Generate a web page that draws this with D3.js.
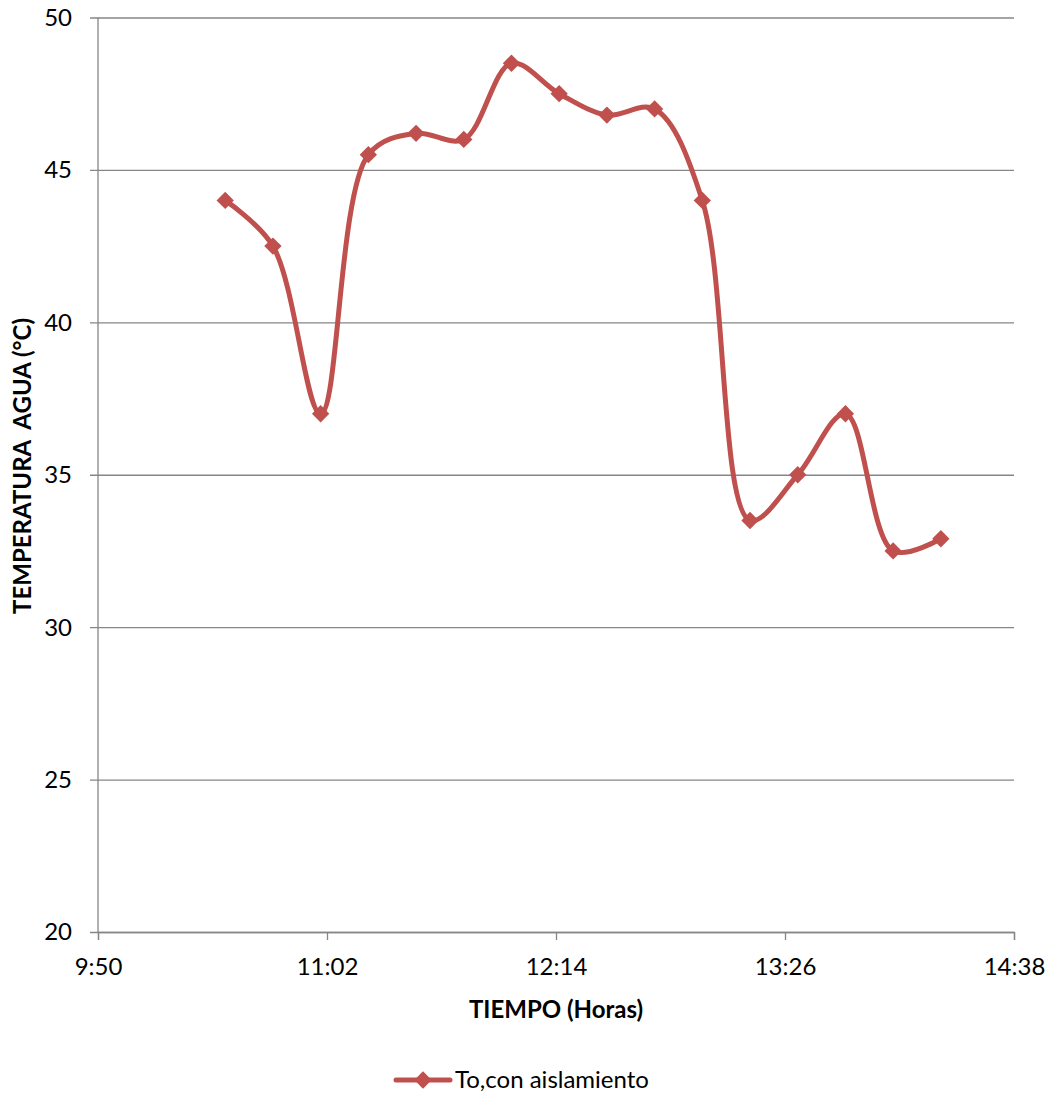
<!DOCTYPE html>
<html>
<head>
<meta charset="utf-8">
<script src="https://cdn.jsdelivr.net/npm/d3@7"></script>
<style>
  body { margin: 0; background: #fff; }
  text { font-family: Lato, "Open Sans", sans-serif; fill: #000; }
  .grid line { stroke: #868686; stroke-width: 1.3; }
  .grid path { display: none; }
</style>
</head>
<body>
<svg width="1052" height="1095"></svg>
<script>
// readings, hh:mm
var times = ["10:30", "10:45", "11:00", "11:15", "11:30", "11:45", "12:00", "12:15",
             "12:30", "12:45", "13:00", "13:15", "13:30", "13:45", "14:00", "14:15"];
var temps = [44, 42.5, 37, 45.5, 46.2, 46, 48.5, 47.5, 46.8, 47, 44, 33.5, 35, 37, 32.5, 32.9];
var xTicks = ["9:50", "11:02", "12:14", "13:26", "14:38"];
var yTicks = [20, 25, 30, 35, 40, 45, 50];
var seriesName = "To,con aislamiento";

var svg = d3.select("svg"),
    margin = {top: 17.5, right: 38, bottom: 163, left: 98},
    width = +svg.attr("width") - margin.left - margin.right,
    height = +svg.attr("height") - margin.top - margin.bottom,
    g = svg.append("g").attr("transform", "translate(" + margin.left + "," + margin.top + ")");

var parseTime = d3.timeParse("%H:%M");
var color = "#C0504D", axisColor = "#868686";

var data = times.map(function(t, i) { return {t: parseTime(t), v: temps[i]}; });
var tickDates = xTicks.map(parseTime);

var x = d3.scaleTime().domain([tickDates[0], tickDates[tickDates.length - 1]]).range([0, width]);
var y = d3.scaleLinear().domain([20, 50]).range([height, 0]);

// horizontal gridlines with the little outside ticks
g.append("g")
    .attr("class", "grid")
    .attr("transform", "translate(-8,0)")
    .call(d3.axisLeft(y).tickValues(yTicks).tickSize(-(width + 8)).tickFormat(""));

// y axis labels
g.append("g").selectAll("text")
    .data(yTicks)
  .enter().append("text")
    .attr("x", -26)
    .attr("y", function(d) { return y(d); })
    .attr("dy", "0.35em")
    .attr("text-anchor", "end")
    .attr("font-size", "24px")
    .text(function(d) { return d; });

// vertical axis line
g.append("line")
    .attr("x1", 0).attr("x2", 0)
    .attr("y1", 0).attr("y2", height)
    .attr("stroke", axisColor).attr("stroke-width", 1.3);

// x axis
var xAxis = g.append("g")
    .attr("transform", "translate(0," + height + ")")
    .call(d3.axisBottom(x).tickValues(tickDates).tickSize(8).tickPadding(18)
      .tickFormat(d3.timeFormat("%-H:%M")));
xAxis.select(".domain").attr("stroke", axisColor).attr("stroke-width", 1.3);
xAxis.selectAll(".tick line").attr("stroke", axisColor).attr("stroke-width", 1.3);
xAxis.selectAll(".tick text").attr("font-size", "24px").attr("font-family", "Lato, sans-serif").attr("fill", "#000");

// axis titles
svg.append("text")
    .attr("x", 556)
    .attr("y", 1018)
    .attr("text-anchor", "middle")
    .attr("font-size", "24px")
    .attr("font-weight", "bold")
    .text("TIEMPO (Horas)");

svg.append("text")
    .attr("transform", "translate(31,466) rotate(-90)")
    .attr("text-anchor", "middle")
    .attr("font-size", "24px")
    .attr("font-weight", "bold")
    .style("white-space", "pre")
    .text("TEMPERATURA  AGUA (°C)");

// smoothed line like excel
var line = d3.line()
    .curve(d3.curveCatmullRom.alpha(0.5))
    .x(function(d) { return x(d.t); })
    .y(function(d) { return y(d.v); });

g.append("path")
    .datum(data)
    .attr("fill", "none")
    .attr("stroke", color)
    .attr("stroke-width", 5)
    .attr("stroke-linejoin", "round")
    .attr("d", line);

var diamond = d3.symbol().type(d3.symbolSquare).size(150);

g.selectAll(".pt")
    .data(data)
  .enter().append("path")
    .attr("class", "pt")
    .attr("d", diamond)
    .attr("fill", color)
    .attr("transform", function(d) { return "translate(" + x(d.t) + "," + y(d.v) + ") rotate(45)"; });

// legend
var leg = svg.append("g").attr("transform", "translate(396,1080)");
leg.append("line")
    .attr("x1", 0).attr("x2", 54)
    .attr("stroke", color).attr("stroke-width", 5).attr("stroke-linecap", "round");
leg.append("path")
    .attr("d", diamond)
    .attr("fill", color)
    .attr("transform", "translate(27,0) rotate(45)");
leg.append("text")
    .attr("x", 59)
    .attr("dy", "0.35em")
    .attr("font-size", "24px")
    .text(seriesName);
</script>
</body>
</html>
